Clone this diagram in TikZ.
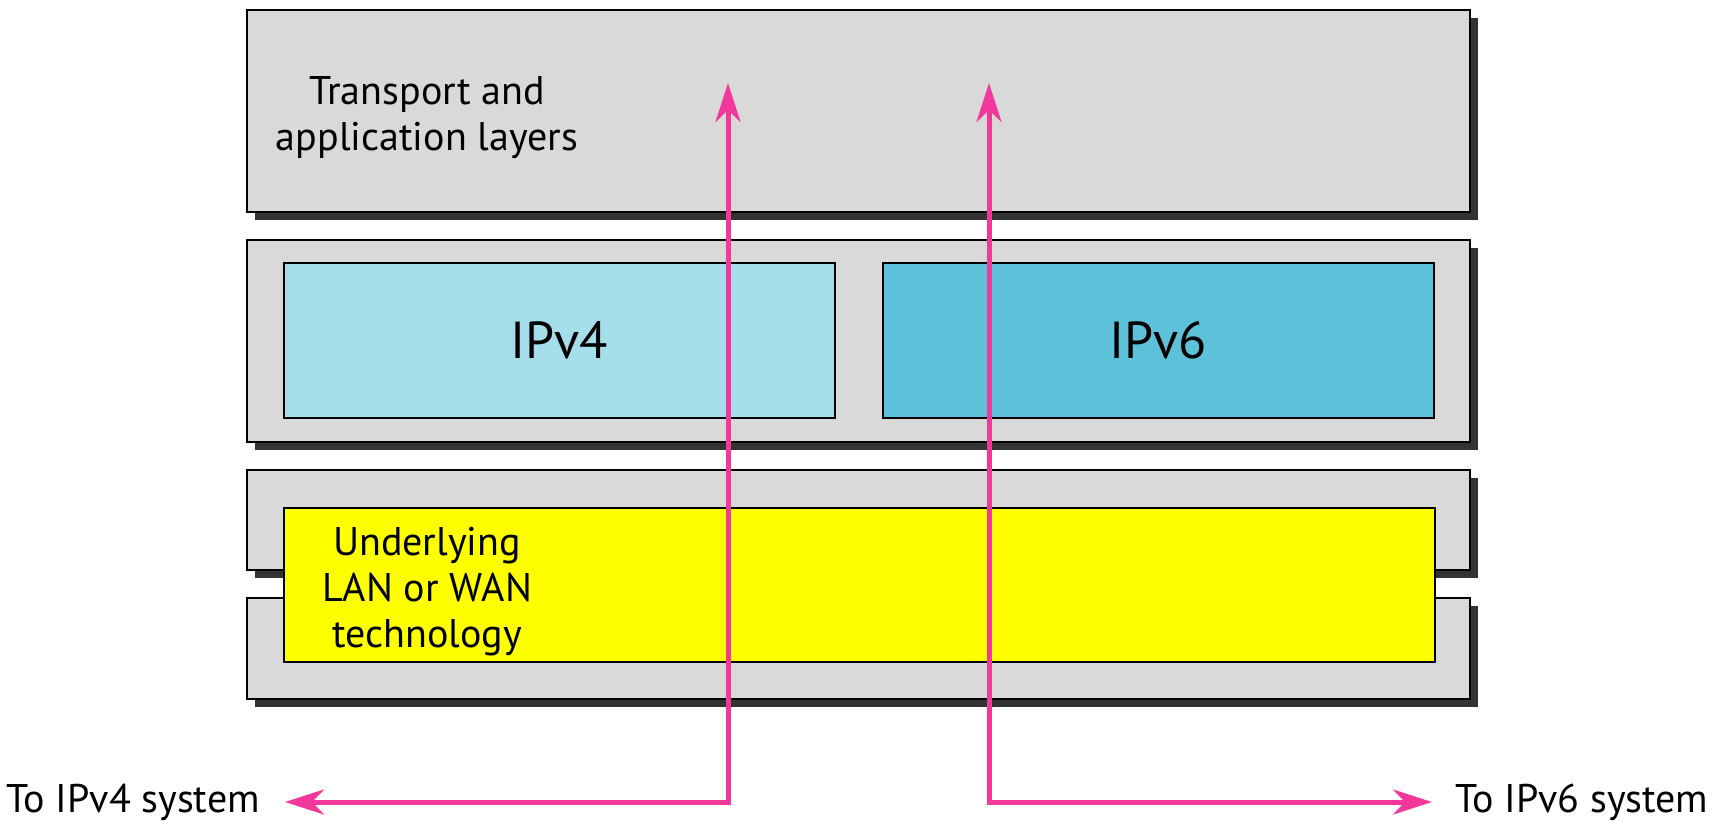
\documentclass[tikz,border=0pt]{standalone}
\usepackage{fontspec}
\setmainfont{PT Sans}
\usetikzlibrary{arrows.meta,shadows}
\definecolor{boxgray}{HTML}{D9D9D9}
\definecolor{shadowgray}{HTML}{333333}
\definecolor{lightblue}{HTML}{A6DDEA}
\definecolor{midblue}{HTML}{5EC1DA}
\definecolor{pinkline}{HTML}{F2399B}
\definecolor{techyellow}{HTML}{FFFF00}
\tikzset{
  layerbox/.style={draw=black, line width=2pt, fill=boxgray, inner sep=0pt,
    drop shadow={shadow xshift=8pt, shadow yshift=-8pt, fill=shadowgray, opacity=1}},
  protobox/.style={draw=black, line width=1.5pt, inner sep=0pt, font=\fontsize{52}{60}\selectfont},
  techbox/.style={draw=black, line width=1.5pt, fill=techyellow, inner sep=0pt},
  lbl/.style={inner sep=0pt, font=\fontsize{40}{46}\selectfont, align=center},
  pinkarrow/.style={draw=pinkline, line width=5pt,
    {Stealth[length=39pt, width=25pt, inset=12pt]}-{Stealth[length=39pt, width=25pt, inset=12pt]}}
}
\begin{document}
\begin{tikzpicture}[x=1pt, y=-1pt]
\useasboundingbox (0,0) rectangle (1715,820);
% top layer
\node[layerbox, minimum width=1223pt, minimum height=202pt] (top) at (858.5,111) {};
\node[lbl] (toptxt) at (427,118) {Transport and\\application layers};
% IP layer
\node[layerbox, minimum width=1223pt, minimum height=202pt] (mid) at (858.5,341) {};
\node[protobox, fill=lightblue, minimum width=551pt, minimum height=155pt] (ipv4) at (559.5,340.5) {IPv4};
\node[protobox, fill=midblue, minimum width=551pt, minimum height=155pt] (ipv6) at (1158.5,340.5) {IPv6};
% bottom layer
\node[layerbox, minimum width=1223pt, minimum height=100pt] (lowa) at (858.5,520) {};
\node[layerbox, minimum width=1223pt, minimum height=101pt] (lowb) at (858.5,648.5) {};
\node[techbox, minimum width=1151pt, minimum height=154pt] (tech) at (859.5,585) {};
\node[lbl] (techtxt) at (427,592) {Underlying\\LAN or WAN\\technology};
% labels
\node[lbl, anchor=base east] (to4) at (260,812) {To IPv4 system};
\node[lbl, anchor=base west] (to6) at (1455,812) {To IPv6 system};
% arrows
\coordinate (t4) at (728,83);
\coordinate (e4) at (285,802);
\coordinate (t6) at (989,83);
\coordinate (e6) at (1432,802);
\draw[pinkarrow] (t4) |- (e4);
\draw[pinkarrow] (t6) |- (e6);
\end{tikzpicture}
\end{document}
